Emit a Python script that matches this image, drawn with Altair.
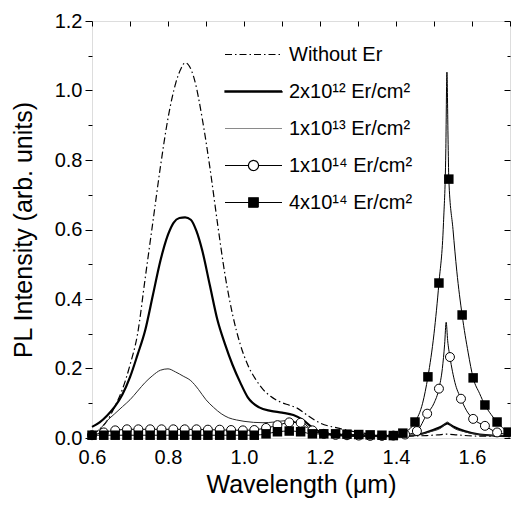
import altair as alt
import pandas as pd

FONT = "Liberation Sans"

SERIES = ["Without Er", "2x10¹² Er/cm²", "1x10¹³ Er/cm²", "1x10¹⁴ Er/cm²", "4x10¹⁴ Er/cm²"]

# --- Without Er (dash-dot) ---
woer_x = [0.60, 0.62, 0.64, 0.66, 0.68, 0.70, 0.72, 0.74, 0.76, 0.78, 0.80, 0.82, 0.835, 0.845, 0.855,
          0.87, 0.89, 0.91, 0.93, 0.95, 0.97, 0.99, 1.01, 1.03, 1.05, 1.07, 1.095, 1.12, 1.14, 1.166,
          1.20, 1.245, 1.31, 1.37, 1.43, 1.48, 1.51, 1.535, 1.56, 1.60, 1.65, 1.70]
woer_y = [0.010, 0.025, 0.050, 0.090, 0.14, 0.21, 0.30, 0.46, 0.62, 0.78, 0.92, 1.02, 1.065, 1.08, 1.072,
          1.03, 0.92, 0.78, 0.62, 0.47, 0.355, 0.27, 0.21, 0.17, 0.14, 0.12, 0.104, 0.094, 0.086, 0.066,
          0.043, 0.029, 0.015, 0.008, 0.006, 0.007, 0.009, 0.011, 0.009, 0.006, 0.005, 0.004]

# --- 2x10^12 (thick) ---
e12_x = [0.60, 0.62, 0.64, 0.66, 0.68, 0.70, 0.72, 0.74, 0.76, 0.78, 0.80, 0.815, 0.83, 0.845, 0.86,
         0.875, 0.89, 0.91, 0.93, 0.95, 0.97, 0.99, 1.01, 1.04, 1.07, 1.10, 1.13, 1.155, 1.18, 1.21,
         1.25, 1.30, 1.40, 1.45, 1.49, 1.52, 1.535, 1.55, 1.58, 1.62, 1.70]
e12_y = [0.032, 0.045, 0.065, 0.09, 0.125, 0.175, 0.24, 0.31, 0.41, 0.51, 0.585, 0.62, 0.633, 0.635, 0.628,
         0.595, 0.54, 0.44, 0.34, 0.27, 0.21, 0.16, 0.117, 0.088, 0.078, 0.073, 0.066, 0.052, 0.03, 0.014,
         0.008, 0.006, 0.005, 0.008, 0.02, 0.033, 0.042, 0.033, 0.02, 0.01, 0.005]

# --- 1x10^13 (thin) ---
e13_x = [0.60, 0.62, 0.64, 0.66, 0.68, 0.70, 0.72, 0.74, 0.76, 0.78, 0.80, 0.82, 0.84, 0.86, 0.88,
         0.90, 0.92, 0.94, 0.96, 0.98, 1.00, 1.05, 1.08, 1.11, 1.13, 1.16, 1.19, 1.22, 1.30, 1.40,
         1.45, 1.49, 1.52, 1.535, 1.55, 1.58, 1.62, 1.70]
e13_y = [0.012, 0.025, 0.05, 0.07, 0.09, 0.11, 0.135, 0.16, 0.18, 0.195, 0.199, 0.19, 0.178, 0.165, 0.14,
         0.11, 0.088, 0.07, 0.058, 0.052, 0.048, 0.044, 0.046, 0.05, 0.048, 0.033, 0.018, 0.01, 0.006, 0.005,
         0.008, 0.018, 0.03, 0.046, 0.03, 0.018, 0.01, 0.005]

# --- 1x10^14 (line + open circles) ---
e14_x = [0.60, 0.63, 0.66, 0.70, 0.75, 0.80, 0.85, 0.90, 0.95, 1.00, 1.03, 1.06, 1.09, 1.121, 1.152,
         1.18, 1.21, 1.25, 1.30, 1.35, 1.40, 1.43, 1.455, 1.482, 1.50, 1.513, 1.522, 1.528, 1.532, 1.536,
         1.542, 1.555, 1.571, 1.585, 1.603, 1.634, 1.666, 1.70]
e14_y = [0.008, 0.016, 0.022, 0.025, 0.025, 0.025, 0.025, 0.024, 0.023, 0.022, 0.024, 0.029, 0.037, 0.045, 0.044,
         0.022, 0.012, 0.008, 0.006, 0.006, 0.007, 0.01, 0.02, 0.07, 0.1, 0.142, 0.2, 0.27, 0.333, 0.28,
         0.233, 0.16, 0.113, 0.08, 0.055, 0.035, 0.016, 0.01]
circ_x = [0.600, 0.631, 0.661, 0.692, 0.722, 0.753, 0.783, 0.814, 0.844, 0.875, 0.905, 0.936, 0.966, 0.997,
          1.027, 1.058, 1.088, 1.119, 1.149, 1.180, 1.210, 1.241, 1.271, 1.302, 1.332, 1.363, 1.393, 1.424,
          1.455, 1.482, 1.513, 1.542, 1.571, 1.603, 1.634, 1.666]
circ_y = [0.008, 0.016, 0.022, 0.025, 0.025, 0.025, 0.025, 0.025, 0.025, 0.025, 0.024, 0.024, 0.023, 0.022,
          0.023, 0.029, 0.037, 0.045, 0.044, 0.022, 0.012, 0.009, 0.008, 0.007, 0.006, 0.006, 0.007, 0.01,
          0.02, 0.07, 0.142, 0.233, 0.113, 0.055, 0.035, 0.016]

# --- 4x10^14 (line + filled squares) ---
e14b_x = [0.60, 0.70, 0.80, 0.90, 1.00, 1.03, 1.058, 1.088, 1.119, 1.149, 1.18, 1.25, 1.30, 1.35, 1.393,
          1.418, 1.45, 1.47, 1.484, 1.50, 1.513, 1.525, 1.531, 1.534, 1.537, 1.539, 1.55, 1.56, 1.574,
          1.59, 1.603, 1.62, 1.634, 1.65, 1.666, 1.68, 1.695, 1.70]
e14b_y = [0.008, 0.008, 0.008, 0.008, 0.008, 0.008, 0.012, 0.018, 0.02, 0.018, 0.012, 0.011, 0.01, 0.008, 0.007,
          0.014, 0.046, 0.1, 0.176, 0.3, 0.446, 0.62, 0.82, 1.053, 0.86, 0.745, 0.6, 0.48, 0.354,
          0.245, 0.173, 0.128, 0.095, 0.068, 0.046, 0.03, 0.017, 0.015]
sq_x = [0.600, 0.631, 0.661, 0.692, 0.722, 0.753, 0.783, 0.814, 0.844, 0.875, 0.905, 0.936, 0.966, 0.997,
        1.027, 1.058, 1.088, 1.119, 1.149, 1.180, 1.210, 1.241, 1.271, 1.302, 1.332, 1.363, 1.393, 1.418,
        1.450, 1.484, 1.513, 1.539, 1.574, 1.603, 1.634, 1.666, 1.695]
sq_y = [0.008, 0.008, 0.008, 0.008, 0.008, 0.008, 0.008, 0.008, 0.008, 0.008, 0.008, 0.008, 0.008, 0.008,
        0.008, 0.012, 0.018, 0.02, 0.018, 0.012, 0.012, 0.012, 0.011, 0.01, 0.009, 0.008, 0.007, 0.014,
        0.046, 0.176, 0.446, 0.745, 0.354, 0.173, 0.095, 0.046, 0.017]

X_TICKS = [0.6, 0.7, 0.8, 0.9, 1.0, 1.1, 1.2, 1.3, 1.4, 1.5, 1.6, 1.7]
X_LABELS = [0.6, 0.8, 1.0, 1.2, 1.4, 1.6]
Y_TICKS = [0.0, 0.1, 0.2, 0.3, 0.4, 0.5, 0.6, 0.7, 0.8, 0.9, 1.0, 1.1, 1.2]


def df(xs, ys, name):
    return pd.DataFrame({"wl": xs, "pl": ys, "s": name})


xs = alt.Scale(domain=[0.6, 1.7], nice=False, zero=False)
ys = alt.Scale(domain=[0.0, 1.2], nice=False, zero=False)
EVEN = "round(datum.value*10) % 2 == 0"

ax_bottom = alt.Axis(orient="bottom", values=X_LABELS, format=".1f", ticks=False, labelFlush=False,
                     tickSize=0, domain=False, grid=False, labelFontSize=20, labelPadding=9,
                     labelFont=FONT, labelColor="black", title="Wavelength (μm)", titleFont=FONT,
                     titleFontSize=25, titleFontWeight="normal", titleColor="black", titlePadding=5)
ax_left = alt.Axis(orient="left", values=Y_TICKS, labelFlush=False,
                   labelExpr=EVEN + " ? format(datum.value, '.1f') : ''",
                   tickSize={"condition": {"test": EVEN, "value": 7}, "value": 4},
                   tickColor="black", tickWidth=1, domain=False, grid=False, labelFontSize=20,
                   labelPadding=3, labelFont=FONT, labelColor="black",
                   title="PL Intensity (arb. units)", titleFont=FONT, titleFontSize=25,
                   titleFontWeight="normal", titleColor="black", titlePadding=18)
ax_top = alt.Axis(orient="top", values=X_TICKS, labels=False, domain=False, grid=False, tickSize=5,
                  offset=-5, tickColor="black", tickWidth=1, title=None)
ax_right = alt.Axis(orient="right", values=Y_TICKS, labels=False, domain=False, grid=False, tickSize=6,
                    offset=-6, tickColor="black", tickWidth=1, title=None,
                    tickDash={"condition": {"test": EVEN, "value": [10, 0]}, "value": [0, 3, 3, 10]})


def line(xv, yv, name, xaxis=None, yaxis=None, **mk):
    return alt.Chart(df(xv, yv, name)).mark_line(interpolate="monotone", **mk).encode(
        x=alt.X("wl:Q", scale=xs, axis=xaxis),
        y=alt.Y("pl:Q", scale=ys, axis=yaxis),
    )


l_woer = line(woer_x, woer_y, SERIES[0], ax_bottom, ax_left, color="black", strokeWidth=1.2,
              strokeDash=[7, 3, 1.5, 3])
l_e12 = line(e12_x, e12_y, SERIES[1], ax_top, ax_right, color="black", strokeWidth=2.2)
l_e13 = line(e13_x, e13_y, SERIES[2], color="#2a2a2a", strokeWidth=1)
l_e14 = line(e14_x, e14_y, SERIES[3], color="black", strokeWidth=1)
l_e14b = line(e14b_x, e14b_y, SERIES[4], color="black", strokeWidth=1)

p_circ = alt.Chart(df(circ_x, circ_y, SERIES[3])).mark_point(
    shape="circle", size=80, filled=True, fill="white", stroke="black", strokeWidth=1, opacity=1
).encode(x=alt.X("wl:Q", scale=xs, axis=None), y=alt.Y("pl:Q", scale=ys, axis=None))
p_sq = alt.Chart(df(sq_x, sq_y, SERIES[4])).mark_point(
    shape="square", size=90, filled=True, color="black", opacity=1
).encode(x=alt.X("wl:Q", scale=xs, axis=None), y=alt.Y("pl:Q", scale=ys, axis=None))

# legend symbols: line sample + marker drawn as custom paths
SHAPES = [
    "M-3,0L3,0",
    "M-3,-0.06L3,-0.06L3,0.06L-3,0.06Z",
    "M-3,0L3,0",
    "M-3,0L-0.53,0M0.53,0L3,0M0.53,0A0.53,0.53,0,1,1,-0.53,0A0.53,0.53,0,1,1,0.53,0Z",
    "M-3,0L3,0M-0.5,-0.5L0.5,-0.5L0.5,0.5L-0.5,0.5Z",
]
STROKES = ["black", "black", "#8a8a8a", "black", "black"]
FILLS = ["transparent", "black", "transparent", "white", "black"]
DASHES = [[7, 3, 1.5, 3], [1, 0], [1, 0], [1, 0], [1, 0]]

leg = alt.Legend(title=None, orient="none", legendX=151, legendY=23, symbolSize=361,
                 symbolStrokeWidth=1.2, symbolOpacity=1, labelFont=FONT, labelFontSize=20,
                 labelColor="black", labelOffset=25, rowPadding=16, padding=0, labelLimit=400)

leg_layer = alt.Chart(pd.DataFrame({"s": SERIES})).mark_point(opacity=0, filled=False).encode(
    color=alt.Color("s:N", scale=alt.Scale(domain=SERIES, range=STROKES), legend=leg),
    fill=alt.Fill("s:N", scale=alt.Scale(domain=SERIES, range=FILLS), legend=leg),
    shape=alt.Shape("s:N", scale=alt.Scale(domain=SERIES, range=SHAPES), legend=leg),
    strokeDash=alt.StrokeDash("s:N", scale=alt.Scale(domain=SERIES, range=DASHES), legend=leg),
)

chart = alt.layer(
    l_woer, l_e12, l_e13, l_e14, l_e14b, p_circ, p_sq, leg_layer
).resolve_axis(x="independent", y="independent").properties(
    width=418, height=417,
    autosize=alt.AutoSizeParams(type="none"),
    padding={"left": 92, "top": 21, "right": 1, "bottom": 67},
    background="white",
).configure_view(stroke="black", strokeWidth=1.2).configure(font=FONT)

chart.save("out.html", embed_options={"renderer": "svg", "actions": False})
